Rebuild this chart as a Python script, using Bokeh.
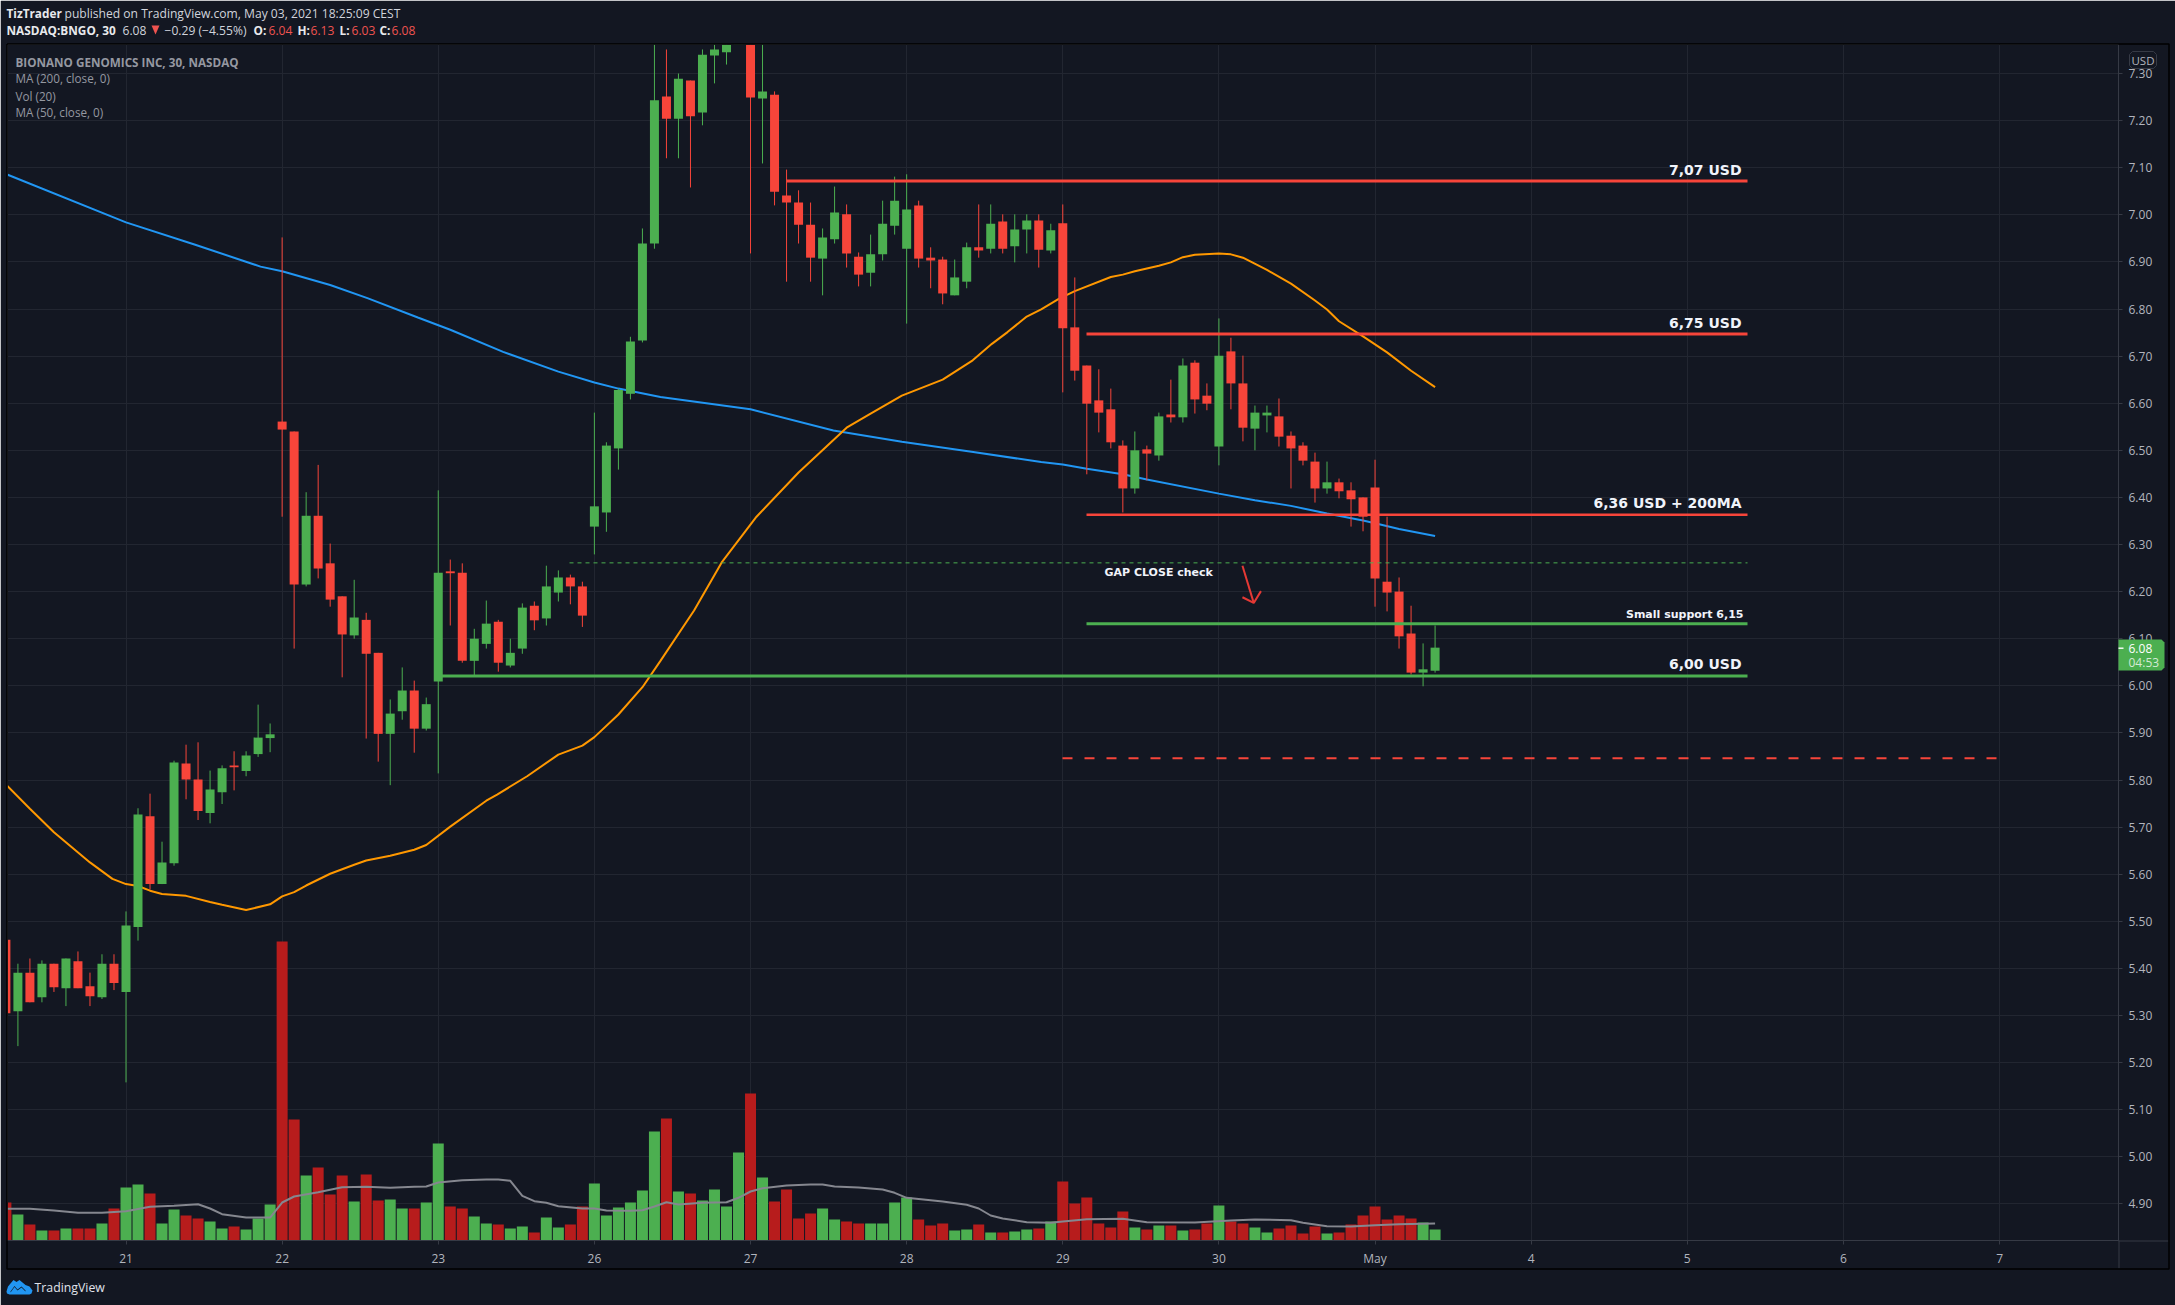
from bokeh.plotting import figure
from bokeh.core.properties import value
from bokeh.models import Range1d, FixedTicker, ColumnDataSource, NumeralTickFormatter
from bokeh.embed import file_html
from bokeh.resources import INLINE

W, H = 2175, 1305
BG = "#131722"; GRID = "#222631"; AXIS = "#363a45"; TICKTXT = "#b2b5be"
RED = "#f7453a"; GREEN = "#4caf50"; VRED = "#b71c1c"; VGREEN = "#4caf50"

opens = [5.461,5.309,5.391,5.339,5.410,5.358,5.415,5.362,5.339,5.410,5.350,5.488,5.723,5.579,5.623,5.835,5.801,5.730,5.774,5.831,
 5.819,5.855,5.889,6.561,6.540,6.215,6.361,6.260,6.190,6.107,6.140,6.070,5.898,5.946,5.990,5.909,6.009,6.243,6.240,6.053,
 6.089,6.136,6.043,6.079,6.170,6.143,6.198,6.230,6.211,6.338,6.368,6.504,6.620,6.733,6.939,7.251,7.204,7.285,7.217,7.338,
 7.345,7.41,7.42,7.247,7.255,7.041,7.026,6.979,6.907,6.948,7.001,6.911,6.877,6.916,6.977,6.928,7.020,6.909,6.905,6.829,
 6.858,6.931,6.928,6.986,6.933,6.969,6.988,6.924,6.982,6.761,6.680,6.606,6.587,6.510,6.419,6.502,6.489,6.576,6.570,6.686,
 6.616,6.508,6.710,6.642,6.546,6.574,6.572,6.531,6.510,6.476,6.419,6.432,6.415,6.400,6.421,6.221,6.200,6.111,6.028,6.032]
highs = [5.47,5.410,5.421,5.417,5.410,5.421,5.436,5.391,5.430,5.430,5.521,5.740,5.771,5.669,5.841,5.875,5.880,5.820,5.831,5.861,
 5.861,5.960,5.920,6.952,6.540,6.411,6.469,6.302,6.190,6.225,6.155,6.070,5.971,6.039,6.011,5.975,6.415,6.268,6.260,6.121,
 6.181,6.140,6.100,6.175,6.179,6.255,6.245,6.236,6.221,6.580,6.517,6.631,6.741,6.971,7.40,7.351,7.300,7.285,7.351,7.40,
 7.40,7.47,7.50,7.40,7.262,7.096,7.052,7.026,6.971,7.060,7.022,6.920,6.958,7.030,7.081,7.086,7.030,6.931,6.911,6.905,
 6.941,7.022,7.022,7.001,7.001,7.001,7.001,6.981,7.022,6.867,6.680,6.672,6.631,6.521,6.540,6.510,6.580,6.650,6.695,6.691,
 6.642,6.780,6.739,6.701,6.595,6.595,6.610,6.540,6.517,6.495,6.476,6.440,6.432,6.400,6.480,6.359,6.230,6.170,6.090,6.128]
lows = [5.30,5.235,5.328,5.328,5.350,5.320,5.358,5.320,5.335,5.354,5.158,5.459,5.567,5.579,5.618,5.759,5.715,5.708,5.749,5.778,
 5.808,5.849,5.859,6.359,6.079,6.211,6.228,6.168,6.018,6.100,5.888,5.839,5.789,5.928,5.858,5.905,5.814,6.128,6.049,6.022,
 6.079,6.030,6.039,6.068,6.118,6.128,6.179,6.173,6.125,6.279,6.327,6.459,6.608,6.729,6.928,7.120,7.120,7.058,7.190,7.279,
 7.319,7.39,6.918,7.109,7.020,6.858,6.939,6.858,6.829,6.939,6.888,6.848,6.848,6.903,6.958,6.769,6.888,6.844,6.810,6.829,
 6.844,6.909,6.918,6.918,6.899,6.918,6.888,6.918,6.623,6.648,6.449,6.538,6.504,6.368,6.408,6.436,6.478,6.559,6.559,6.578,
 6.585,6.468,6.587,6.519,6.500,6.538,6.508,6.419,6.468,6.389,6.408,6.398,6.338,6.328,6.168,6.158,6.079,6.024,5.999,6.028]
closes = [5.305,5.391,5.328,5.410,5.360,5.421,5.358,5.341,5.410,5.369,5.491,5.727,5.579,5.625,5.837,5.801,5.734,5.780,5.825,5.827,
 5.852,5.890,5.897,6.544,6.215,6.361,6.249,6.183,6.109,6.145,6.068,5.898,5.941,5.990,5.909,5.961,6.240,6.239,6.053,6.100,
 6.132,6.049,6.070,6.166,6.139,6.211,6.230,6.211,6.149,6.381,6.510,6.628,6.731,6.939,7.243,7.204,7.289,7.209,7.340,7.351,
 7.37,7.45,7.249,7.262,7.049,7.026,6.979,6.909,6.952,7.005,6.918,6.873,6.916,6.981,7.030,7.011,6.907,6.903,6.833,6.867,
 6.931,6.924,6.981,6.928,6.969,6.988,6.926,6.967,6.759,6.669,6.599,6.580,6.517,6.419,6.500,6.493,6.572,6.570,6.680,6.608,
 6.599,6.701,6.642,6.548,6.580,6.580,6.529,6.504,6.478,6.419,6.432,6.413,6.396,6.359,6.228,6.198,6.105,6.028,6.035,6.081]
volumes = [38,26,16,10,10,12,12,12,17,32,53,56,47,17,31,25,22,19,12,14,
 11,22,36,299,121,65,73,46,65,39,66,40,41,32,32,38,97,34,32,24,
 17,16,12,14,8,23,13,16,34,57,25,33,38,50,109,122,49,47,40,51,
 34,88,147,63,39,51,22,27,32,21,19,17,17,17,38,43,21,15,17,10,
 11,16,8,8,9,11,12,19,59,37,43,17,13,29,13,11,15,15,10,11,
 17,35,19,17,13,8,12,15,7,14,7,8,16,25,34,21,25,22,18,11]

ma200_bar = [0.15,10,15.7,21.2,23,27,30.1,34.3,37,41.4,46,49,51,54.5,62,68.9,74.6,80.4,86.2,88,90,93,95,101,104,107,110,113,114,116,119]
ma200_val = [7.085,6.984,6.937,6.890,6.880,6.851,6.823,6.782,6.756,6.709,6.667,6.644,6.631,6.613,6.587,6.542,6.518,6.497,6.475,6.470,6.461,6.449,6.438,6.408,6.394,6.382,6.366,6.351,6.345,6.333,6.318]
ma50_bar = [0.1,2,4,7,8.87,10,11,12,13,15,17,18,20,22,23,24,25,27,29,30,32,34,35,37,40,40.9,43.4,46,48,49,51,53,54.5,57.3,59.6,62.5,66,70,72,74.6,78,80.5,82.1,83.4,85,86.2,87.7,89,92,93,94,96,97,98,99,101,102,103,105,107,109,110,111,113,115,117,119]
ma50_val = [5.788,5.739,5.689,5.625,5.590,5.579,5.575,5.565,5.558,5.554,5.541,5.535,5.524,5.536,5.553,5.562,5.576,5.601,5.620,5.629,5.639,5.652,5.662,5.701,5.756,5.769,5.808,5.854,5.873,5.891,5.939,5.997,6.053,6.160,6.262,6.359,6.453,6.548,6.578,6.616,6.650,6.691,6.726,6.751,6.784,6.799,6.822,6.838,6.868,6.873,6.880,6.892,6.899,6.910,6.915,6.918,6.916,6.909,6.883,6.854,6.818,6.799,6.774,6.742,6.708,6.669,6.634]
volma_bar = [0,2,4,6,8,10,12,14,16,17,18,20,22,23,24,26,28,30,32,34,35,36,38,40,41,42,43,44,45,46,48,49,50,52,53,54,55,56,58,60,61,62,63,65,67,68,69,71,73,74,75,78,80,81,82,83,85,87,88,90,93,95,99,102,104,107,108,110,112,114,116,119]
volma_val = [31.7,31.7,30,27.7,27.7,29.3,33.7,34.7,36.3,32,26.3,23,23,38,44,48.3,53.3,53.7,52.7,53.7,54,58,60.3,61,61,59.7,44.7,39.3,37.7,34.3,32,32,30,29.7,30.3,34,38.3,36,37.7,38.3,42.7,49,52.3,55,56,56,54,53,51,47.7,42.7,39,35.7,32,25,22,18.3,17.7,19,21.3,21.7,18.3,18,20,21,20.3,17.7,14.3,14,15.3,16.3,17]

day_bars = [10,23,36,49,62,75,88,101,114,127,140,153,166]
day_labels = ["21","22","23","26","27","28","29","30","May","4","5","6","7"]
price_ticks = [4.9,5.0,5.1,5.2,5.3,5.4,5.5,5.6,5.7,5.8,5.9,6.0,6.1,6.2,6.3,6.4,6.5,6.6,6.7,6.8,6.9,7.0,7.1,7.2,7.3]

# frame geometry: bar spacing and price scale
L, R, T, B = 7, 2118, 44, 1240
BAR = 12.01
k_of = lambda sx: 10 + (sx - 125.5) / BAR
p_of = lambda sy: 6 + (685.3 - sy) / 471.0

p = figure(width=W, height=H, output_backend="svg", toolbar_location=None,
           x_range=Range1d(k_of(L), k_of(R)), y_range=Range1d(p_of(B), p_of(T)),
           y_axis_location="right", min_border_left=L, min_border_right=W - R,
           min_border_top=T, min_border_bottom=H - B,
           background_fill_color=BG, border_fill_color=BG, outline_line_color=None)
p.styles = {"position": "absolute", "left": "0px", "top": "0px"}
p.extra_y_ranges = {"vol": Range1d(0, B - T)}

p.grid.grid_line_color = GRID
p.xgrid.ticker = FixedTicker(ticks=day_bars)
p.ygrid.ticker = FixedTicker(ticks=price_ticks)

xa = p.xaxis[0]
xa.ticker = FixedTicker(ticks=day_bars)
xa.major_label_overrides = {b: s for b, s in zip(day_bars, day_labels)}
xa.axis_line_color = AXIS; xa.major_tick_line_color = AXIS
xa.major_tick_out = 4; xa.major_tick_in = 0; xa.minor_tick_line_color = None
xa.major_label_text_color = TICKTXT; xa.major_label_text_font = "Open Sans"
xa.major_label_text_font_size = "12px"; xa.major_label_standoff = 5
ya = p.yaxis[0]
ya.ticker = FixedTicker(ticks=price_ticks)
ya.formatter = NumeralTickFormatter(format="0.00")
ya.axis_line_color = AXIS; ya.major_tick_line_color = AXIS
ya.major_tick_out = 4; ya.major_tick_in = 0; ya.minor_tick_line_color = None
ya.major_label_text_color = TICKTXT; ya.major_label_text_font = "Open Sans"
ya.major_label_text_font_size = "12px"; ya.major_label_standoff = 6

bars = list(range(len(opens)))
up = [c >= o for o, c in zip(opens, closes)]
src = ColumnDataSource(dict(
    x=bars, o=opens, h=highs, l=lows, c=closes, v=volumes,
    top=[max(a, b) for a, b in zip(opens, closes)],
    bot=[min(a, b) for a, b in zip(opens, closes)],
    col=[GREEN if u else RED for u in up],
    vcol=[VGREEN if u else VRED for u in up]))

p.vbar(x="x", top="v", bottom=0, width=11 / BAR, fill_color="vcol", line_color=None, source=src, y_range_name="vol")
p.line(volma_bar, volma_val, line_color="#85878f", line_width=2, y_range_name="vol")
p.line(ma200_bar, ma200_val, line_color="#2196f3", line_width=2)
p.line(ma50_bar, ma50_val, line_color="#ff9800", line_width=2)
p.segment(x0="x", x1="x", y0="l", y1="h", line_color="col", line_width=1, source=src)
p.vbar(x="x", top="top", bottom="bot", width=9 / BAR, fill_color="col", line_color=None, source=src)

def level(a, b, y, color, width, dash="solid"):
    p.line([k_of(a), k_of(b)], [y, y], line_color=color, line_width=width, line_dash=dash)

level(786, 1747, 7.072, RED, 3)
level(1086, 1747, 6.747, RED, 3)
level(1086, 1747, 6.363, RED, 2.5)
level(1086, 1747, 6.132, GREEN, 3)
level(437, 1747, 6.021, GREEN, 3)
level(569, 1747, 6.261, GREEN, 1, "4 4")
level(1062, 1997, 5.846, RED, 2, "10 12")

p.line([102.96, 103.9], [6.255, 6.176], line_color="#e53935", line_width=2)
p.line([102.96, 103.9, 104.5], [6.188, 6.176, 6.201], line_color="#e53935", line_width=2)

# overlay figure: a pixel-coordinate sheet for the page furniture that lies outside the chart frame
q = figure(width=W, height=H, output_backend="svg", toolbar_location=None,
           x_range=Range1d(0, W), y_range=Range1d(H, 0),
           x_axis_location=None, y_axis_location=None,
           min_border_left=0, min_border_right=0, min_border_top=0, min_border_bottom=0,
           background_fill_alpha=0, border_fill_alpha=0, outline_line_color=None)
q.grid.visible = False
q.styles = {"position": "absolute", "left": "0px", "top": "0px", "pointer-events": "none"}

def lbl(x, y, text, color, size, bold=False, align="left", font="Open Sans"):
    q.text(x=[x], y=[y], text=[text], text_color=color, text_font=value(font),
           text_font_size=f"{size}px", text_font_style="bold" if bold else "normal",
           text_align=align, text_baseline="middle")

def poly(xs, ys, fill, line=None):
    q.patch(xs, ys, fill_color=fill, line_color=line, line_width=1)

# panel frame and price-scale rules
q.line([2118.5, 2118.5], [1240, 1268], line_color=AXIS, line_width=1)
q.line([2118, 2168], [1240.5, 1240.5], line_color=AXIS, line_width=1)
q.line([6.5, 2168.5, 2168.5, 6.5, 6.5], [43.5, 43.5, 1268.5, 1268.5, 43.5], line_color="#000000", line_width=1.5)

DJ = "DejaVu Sans"
lbl(1741, 169, "7,07 USD", "#f0f3fa", 14, True, "right", DJ)
lbl(1741, 322, "6,75 USD", "#f0f3fa", 14, True, "right", DJ)
lbl(1741, 502, "6,36 USD + 200MA", "#f0f3fa", 14, True, "right", DJ)
lbl(1743, 614, "Small support 6,15", "#f0f3fa", 11, True, "right", DJ)
lbl(1741, 663, "6,00 USD", "#f0f3fa", 14, True, "right", DJ)
lbl(1104, 571.5, "GAP CLOSE check", "#f0f3fa", 11, True, "left", DJ)

# header
WHITE = "#e8e9ec"
HB, HN = 11.8, 12.1
lbl(6, 12.5, "TizTrader", WHITE, HB, True)
lbl(64, 12.5, "published on TradingView.com, May 03, 2021 18:25:09 CEST", "#d1d4dc", HN)
lbl(6, 29.5, "NASDAQ:BNGO, 30", WHITE, HB, True)
lbl(122, 29.5, "6.08", "#d1d4dc", HN)
poly([151, 159, 155], [25, 25, 34], "#ef5350")
lbl(164, 29.5, "\u22120.29 (\u22124.55%)", "#d1d4dc", HN)
for x, s in [(253, "O:"), (297, "H:"), (339, "L:"), (379, "C:")]:
    lbl(x, 29.5, s, WHITE, HB, True)
for x, s in [(268, "6.04"), (310, "6.13"), (351, "6.03"), (391, "6.08")]:
    lbl(x, 29.5, s, "#ef5350", HN)

# legend
LEG = "#9598a1"
lbl(15, 61, "BIONANO GENOMICS INC, 30, NASDAQ", LEG, 11.7, True)
lbl(15, 77.7, "MA (200, close, 0)", LEG, 11.7)
lbl(15, 95, "Vol (20)", LEG, 11.7)
lbl(15, 111.7, "MA (50, close, 0)", LEG, 11.7)

# price scale extras
poly([2132, 2153, 2156, 2156, 2153, 2132, 2129, 2129], [51, 51, 54, 65, 68, 68, 65, 54], BG, AXIS)
lbl(2142.5, 59.5, "USD", TICKTXT, 11.5, False, "center")
poly([2118, 2161, 2164, 2164, 2161, 2118], [639, 639, 642, 667, 670, 670], GREEN)
lbl(2128, 647.7, "6.08", "#ffffff", 12)
lbl(2128, 661.7, "04:53", "#d4ead5", 12)
poly([2118, 2123, 2123, 2118], [647, 647, 648.4, 648.4], "#ffffff")

# footer logo
poly([6, 7.5, 10, 13, 16, 19, 22, 25, 29, 32, 31, 29, 9, 6.5],
     [1291, 1286, 1283, 1279.5, 1281.5, 1279.5, 1282, 1284.5, 1286, 1290, 1293, 1294, 1294, 1293], "#2196f3")
poly([10, 14, 17, 21, 25, 25, 21, 17, 14, 10], [1292, 1286.5, 1290, 1287, 1291, 1290, 1286, 1289, 1285.5, 1291], BG)
lbl(34, 1286.7, "TradingView", "#e0e3eb", 12.3)

open("out.html", "w").write(file_html([p, q], INLINE))
